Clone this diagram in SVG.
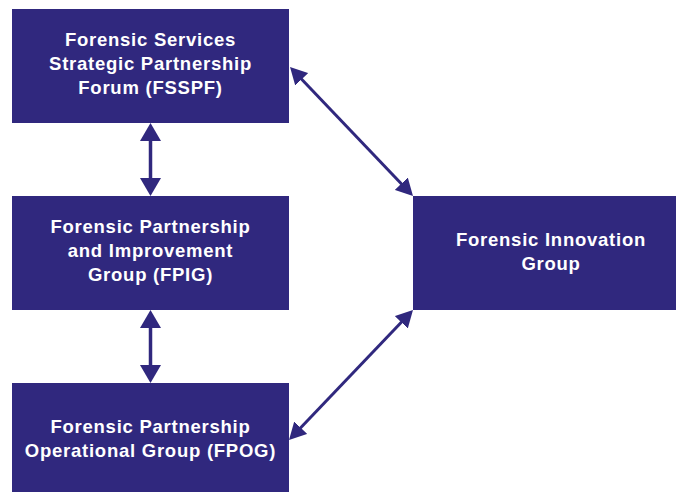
<svg xmlns="http://www.w3.org/2000/svg" width="676" height="492" viewBox="0 0 676 492">
  <style>
    .box { fill: #30287E; }
    .label { fill: #FFFFFF; font-family: "Liberation Sans", Arial, sans-serif; font-weight: bold; font-size: 18.5px; letter-spacing: 0.75px; text-anchor: middle; }
    .conn { stroke: #30287E; fill: none; }
    .v { stroke-width: 3.5; marker-start: url(#headV); marker-end: url(#headV); }
    .d { stroke-width: 3; marker-start: url(#headD); marker-end: url(#headD); }
  </style>
  <defs>
    <marker id="headV" viewBox="0 0 18 21" refX="8" refY="10.5" markerWidth="18" markerHeight="21" markerUnits="userSpaceOnUse" orient="auto-start-reverse">
      <path d="M0,0 L18,10.5 L0,21 Z" fill="#30287E"/>
    </marker>
    <marker id="headD" viewBox="0 0 17 18" refX="7" refY="9" markerWidth="17" markerHeight="18" markerUnits="userSpaceOnUse" orient="auto-start-reverse">
      <path d="M0,0 L17,9 L0,18 Z" fill="#30287E"/>
    </marker>
  </defs>
  <rect width="676" height="492" fill="#FFFFFF"/>
  <g id="fsspf">
    <rect class="box" x="12" y="9" width="277" height="114"/>
    <text class="label" x="150.5" y="46">Forensic Services</text>
    <text class="label" x="150.5" y="70">Strategic Partnership</text>
    <text class="label" x="150.5" y="94">Forum (FSSPF)</text>
  </g>
  <g id="fpig">
    <rect class="box" x="12" y="196" width="277" height="114"/>
    <text class="label" x="150.5" y="233">Forensic Partnership</text>
    <text class="label" x="150.5" y="257">and Improvement</text>
    <text class="label" x="150.5" y="281">Group (FPIG)</text>
  </g>
  <g id="fpog">
    <rect class="box" x="12" y="383" width="277" height="114"/>
    <text class="label" x="150.5" y="433">Forensic Partnership</text>
    <text class="label" x="150.5" y="457">Operational Group (FPOG)</text>
  </g>
  <g id="fig">
    <rect class="box" x="413" y="196" width="277" height="114"/>
    <text class="label" x="551" y="246">Forensic Innovation</text>
    <text class="label" x="551" y="270">Group</text>
  </g>
  <g id="connectors">
    <line class="conn v" x1="150.5" y1="133" x2="150.5" y2="186"/>
    <line class="conn v" x1="150.5" y1="320" x2="150.5" y2="373"/>
    <line class="conn d" x1="296.9" y1="74.2" x2="406.1" y2="188.8"/>
    <line class="conn d" x1="406.1" y1="317.2" x2="295.9" y2="432.8"/>
  </g>
</svg>
